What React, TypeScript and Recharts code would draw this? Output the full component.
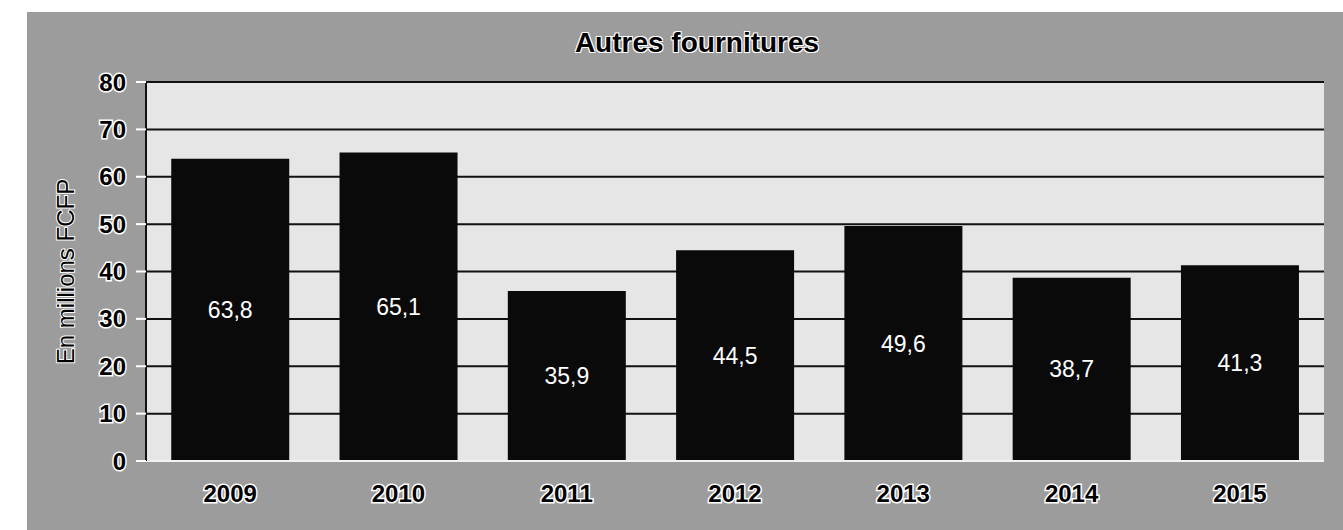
import React from 'react';
import { BarChart, Bar, XAxis, YAxis, CartesianGrid, LabelList } from 'recharts';

// Values (millions FCFP)
const years = ['2009', '2010', '2011', '2012', '2013', '2014', '2015'];
const amounts = [63.8, 65.1, 35.9, 44.5, 49.6, 38.7, 41.3];
const yTicks = [0, 10, 20, 30, 40, 50, 60, 70, 80];

const data = years.map((year, i) => ({ year, value: amounts[i] }));

const FONT = '"Liberation Sans", Arial, sans-serif';

const haloTick = {
  fill: '#000',
  stroke: '#fff',
  strokeWidth: 3,
  paintOrder: 'stroke',
  fontFamily: FONT,
  fontWeight: 'bold',
  fontSize: 24,
};

const App: React.FC = () => {
  return (
    <div style={{ position: 'absolute', left: 0, top: 0, width: 1343, height: 530, background: '#fff' }}>
      {/* scanned grey frame */}
      <div style={{ position: 'absolute', left: 27, top: 12, width: 1316, height: 518, background: '#9c9c9c' }} />
      <div
        style={{
          position: 'absolute',
          left: 697,
          top: 27,
          transform: 'translateX(-50%)',
          fontFamily: FONT,
          fontWeight: 'bold',
          fontSize: 28,
          color: '#000',
          whiteSpace: 'nowrap',
          textShadow: '1px 1px 0 #fff, -1px -1px 0 #fff, 1px -1px 0 #fff, -1px 1px 0 #fff',
        }}
      >
        Autres fournitures
      </div>
      <div style={{ position: 'absolute', left: 0, top: 0 }}>
        <BarChart
          width={1343}
          height={530}
          data={data}
          margin={{ top: 82, right: 19, left: 50, bottom: 29 }}
          barCategoryGap="15%"
        >
          <CartesianGrid
            vertical={false}
            stroke="#111"
            strokeWidth={2}
            fill="#e6e6e6"
            fillOpacity={1}
          />
          <XAxis
            dataKey="year"
            height={40}
            tickLine={false}
            tickMargin={18}
            axisLine={{ stroke: '#f2f2f2', strokeWidth: 2 }}
            tick={haloTick}
          />
          <YAxis
            width={96}
            domain={[0, 80]}
            ticks={yTicks}
            interval={0}
            tickSize={10}
            tickMargin={10}
            axisLine={{ stroke: '#111', strokeWidth: 2 }}
            tickLine={{ stroke: '#fff', strokeWidth: 2 }}
            tick={haloTick}
            label={{
              value: 'En millions FCFP',
              angle: -90,
              position: 'insideLeft',
              offset: 15,
              style: {
                textAnchor: 'middle',
                fill: '#000',
                stroke: '#fff',
                strokeWidth: 2,
                paintOrder: 'stroke',
                fontFamily: FONT,
                fontSize: 24,
              },
            }}
          />
          <YAxis
            yAxisId="frame"
            orientation="right"
            width={0}
            domain={[0, 80]}
            tick={false}
            tickLine={false}
            axisLine={{ stroke: '#333', strokeWidth: 2 }}
          />
          <Bar dataKey="value" fill="#0a0a0a" isAnimationActive={false}>
            <LabelList
              dataKey="value"
              position="center"
              formatter={(v: any) => String(v).replace('.', ',')}
              fill="#fff"
              fontFamily={FONT}
              fontSize={23}
            />
          </Bar>
        </BarChart>
      </div>
    </div>
  );
};

export default App;
